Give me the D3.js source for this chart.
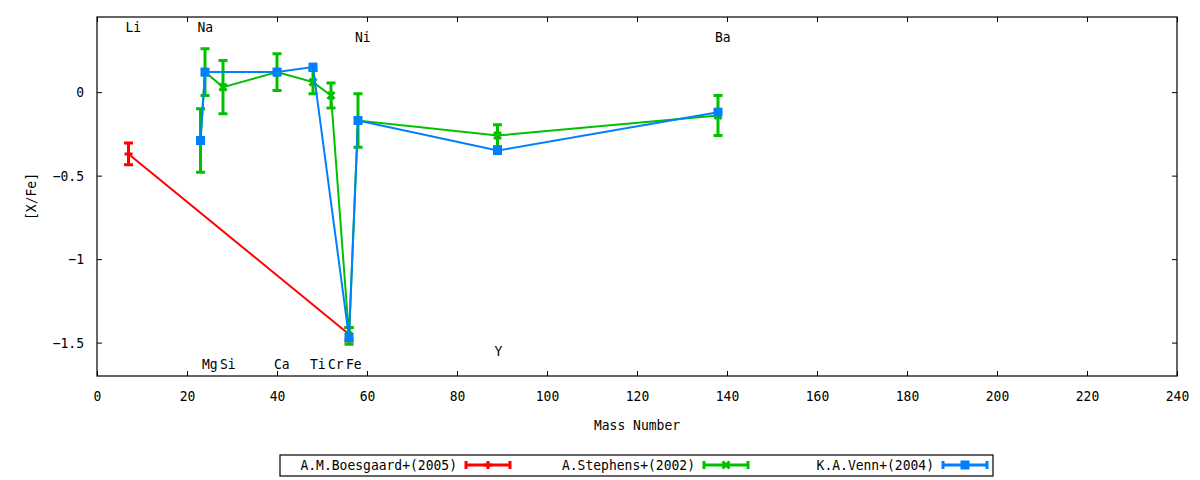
<!DOCTYPE html>
<html>
<head>
<meta charset="utf-8">
<script src="https://cdn.jsdelivr.net/npm/d3@7"></script>
<style>
  body { margin: 0; background: #fff; }
  text { font-family: "DejaVu Sans Mono", monospace; font-size: 14px; fill: #000; }
</style>
</head>
<body>
<div id="chart"></div>
<script>
// A.M.Boesgaard+(2005)
const boesgaardMass = [7, 56];
const boesgaardVal = [-0.37, -1.45];
const boesgaardErr = [0.065, 0.04];

// A.Stephens+(2002)
const stephensMass = [23, 24, 28, 40, 48, 52, 56, 58, 89, 138];
const stephensVal = [-0.29, 0.12, 0.03, 0.12, 0.06, -0.02, -1.46, -0.17, -0.26, -0.14];
const stephensErr = [0.19, 0.14, 0.16, 0.11, 0.07, 0.075, 0.05, 0.16, 0.065, 0.12];

// K.A.Venn+(2004)
const vennMass = [23, 24, 40, 48, 56, 58, 89, 138];
const vennVal = [-0.29, 0.12, 0.12, 0.15, -1.47, -0.17, -0.35, -0.12];
const vennErr = [0, 0, 0, 0, 0, 0, 0, 0];

// element labels (data coords)
const labelNames = ["Li", "Na", "Ni", "Ba", "Mg", "Si", "Ca", "Ti", "Cr", "Fe", "Y"];
const labelMass = [7, 23, 58, 138, 24, 28, 40, 48, 52, 56, 89];
const labelVal = [0.39, 0.39, 0.33, 0.33, -1.63, -1.63, -1.63, -1.63, -1.63, -1.63, -1.55];

const xTicks = [0, 20, 40, 60, 80, 100, 120, 140, 160, 180, 200, 220, 240];
const yTicks = [0, -0.5, -1, -1.5];

const W = 1200, H = 480;
const margin = { top: 17, right: 23, bottom: 104, left: 97 };
const squeeze = 0.93; // the reference font is a bit narrow

const svg = d3.select("#chart").append("svg")
  .attr("width", W)
  .attr("height", H);

const x = d3.scaleLinear().domain([0, 240]).range([margin.left, W - margin.right]);
const y = d3.scaleLinear().domain([-1.7, 0.45]).range([H - margin.bottom, margin.top]);

const x0 = x.range()[0], x1 = x.range()[1];
const y0 = y.range()[0], y1 = y.range()[1];

// narrow text helper
function label(px, py, str, anchor) {
  return svg.append("text")
    .attr("transform", `translate(${px},${py}) scale(${squeeze},1)`)
    .attr("text-anchor", anchor || "start")
    .text(str);
}

// axes with inward ticks, mirrored on top and right
const fmtY = d => d === 0 ? "0" : d3.format("")(d);
svg.append("g")
  .attr("transform", `translate(0,${y0})`)
  .call(d3.axisBottom(x).tickValues(xTicks).tickSize(-5).tickPadding(15).tickFormat(d3.format("d")))
  .call(g => g.select(".domain").remove());
svg.append("g")
  .attr("transform", `translate(0,${y1})`)
  .call(d3.axisTop(x).tickValues(xTicks).tickSize(-5).tickFormat(""))
  .call(g => g.select(".domain").remove());
svg.append("g")
  .attr("class", "yleft")
  .attr("transform", `translate(${x0},0)`)
  .call(d3.axisLeft(y).tickValues(yTicks).tickSize(-5).tickPadding(13).tickFormat(fmtY))
  .call(g => g.select(".domain").remove());
svg.append("g")
  .attr("transform", `translate(${x1},0)`)
  .call(d3.axisRight(y).tickValues(yTicks).tickSize(-5).tickFormat(""))
  .call(g => g.select(".domain").remove());

svg.selectAll(".tick line").attr("stroke", "#000").attr("stroke-width", 1);
svg.selectAll(".tick text")
  .style("font-family", '"DejaVu Sans Mono", monospace')
  .style("font-size", "14px");
// squeeze tick labels around their anchor
svg.selectAll(".tick text").each(function () {
  const t = d3.select(this);
  const tx = +t.attr("x") || 0;
  t.attr("x", 0).attr("transform", `translate(${tx},0) scale(${squeeze},1)`);
});

svg.append("rect")
  .attr("x", x0).attr("y", y1)
  .attr("width", x1 - x0).attr("height", y0 - y1)
  .attr("fill", "none").attr("stroke", "#000").attr("stroke-width", 1.2);

// axis titles
label((x0 + x1) / 2, 430, "Mass Number", "middle");
svg.append("text")
  .attr("transform", `translate(36,${(y0 + y1) / 2}) rotate(-90) scale(${squeeze},1)`)
  .attr("text-anchor", "middle")
  .text("[X/Fe]");

// element labels
labelNames.forEach((name, i) => {
  label(x(labelMass[i]) - 3, y(labelVal[i]) + 5, name);
});

const series = [
  { name: "A.M.Boesgaard+(2005)", mass: boesgaardMass, val: boesgaardVal, err: boesgaardErr, color: "#ff0000", marker: "plus" },
  { name: "A.Stephens+(2002)", mass: stephensMass, val: stephensVal, err: stephensErr, color: "#00c000", marker: "cross" },
  { name: "K.A.Venn+(2004)", mass: vennMass, val: vennVal, err: vennErr, color: "#0080ff", marker: "square" }
];

function drawMarker(g, type, cx, cy, color) {
  if (type === "square") {
    g.append("rect")
      .attr("x", cx - 4.5).attr("y", cy - 4.5)
      .attr("width", 9).attr("height", 9)
      .attr("fill", color);
  } else if (type === "plus") {
    g.append("path")
      .attr("d", `M${cx - 4},${cy}H${cx + 4}M${cx},${cy - 4}V${cy + 4}`)
      .attr("stroke", color).attr("stroke-width", 3).attr("fill", "none");
  } else {
    g.append("path")
      .attr("d", `M${cx - 3.5},${cy - 3.5}L${cx + 3.5},${cy + 3.5}M${cx - 3.5},${cy + 3.5}L${cx + 3.5},${cy - 3.5}`)
      .attr("stroke", color).attr("stroke-width", 3).attr("fill", "none");
  }
}

const plot = svg.append("g");
const line = d3.line().x(d => x(d[0])).y(d => y(d[1]));

series.forEach(s => {
  const g = plot.append("g");
  const pts = s.mass.map((m, i) => [m, s.val[i], s.err[i]]);
  g.append("path")
    .datum(pts)
    .attr("d", line)
    .attr("fill", "none")
    .attr("stroke", s.color)
    .attr("stroke-width", 2);
  pts.forEach(p => {
    if (p[2] > 0) {
      const px = x(p[0]), ya = y(p[1] + p[2]), yb = y(p[1] - p[2]);
      g.append("path")
        .attr("d", `M${px},${ya}V${yb}M${px - 4.5},${ya}H${px + 4.5}M${px - 4.5},${yb}H${px + 4.5}`)
        .attr("stroke", s.color).attr("stroke-width", 3).attr("fill", "none");
    }
    drawMarker(g, s.marker, x(p[0]), y(p[1]), s.color);
  });
});

// legend
const legendTop = 455, legendBottom = 476;
svg.append("rect")
  .attr("x", 280).attr("y", legendTop)
  .attr("width", 713).attr("height", legendBottom - legendTop)
  .attr("fill", "none").attr("stroke", "#000").attr("stroke-width", 1.2);

const legendTextRight = [457, 695, 934];
series.forEach((s, i) => {
  const ly = 465;
  const tx = legendTextRight[i];
  label(tx, ly + 5, s.name, "end");
  const sx0 = tx + 9, sx1 = tx + 53;
  const g = svg.append("g");
  g.append("path")
    .attr("d", `M${sx0},${ly}H${sx1}M${sx0},${ly - 4}V${ly + 4}M${sx1},${ly - 4}V${ly + 4}`)
    .attr("stroke", s.color).attr("stroke-width", 3).attr("fill", "none");
  drawMarker(g, s.marker, (sx0 + sx1) / 2, ly, s.color);
});
</script>
</body>
</html>
